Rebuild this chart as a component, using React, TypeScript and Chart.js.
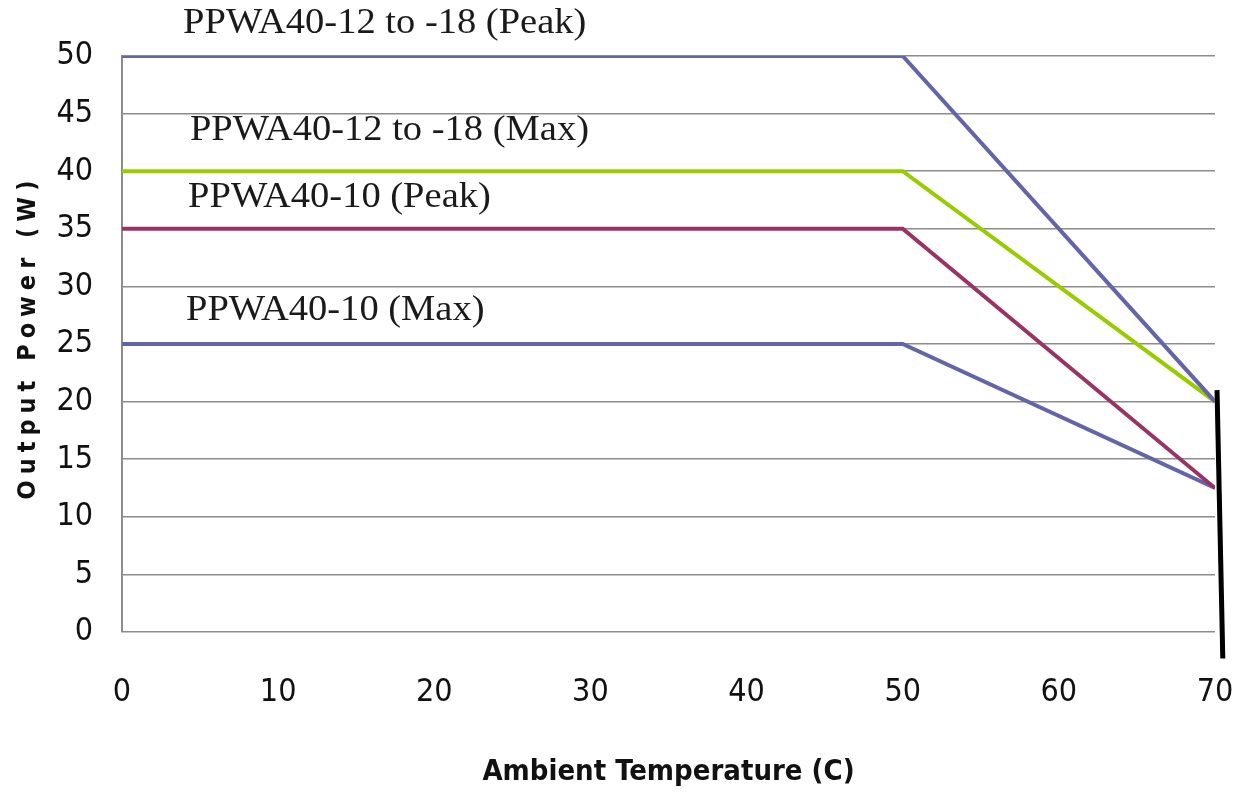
import React, { useEffect, useRef } from "react";
import { Chart, registerables } from "chart.js";

Chart.register(...registerables);

// ---- data ----
const temps = [0, 50, 70];
const peak12to18 = [50, 50, 20];
const max12to18 = [40, 40, 20];
const peak10 = [35, 35, 12.5];
const max10 = [25, 25, 12.5];
const markerX = [70.13, 70.5];
const markerY = [21, -2.3];
const seriesNames = [
  "PPWA40-12 to -18 (Peak)",
  "PPWA40-12 to -18 (Max)",
  "PPWA40-10 (Peak)",
  "PPWA40-10 (Max)",
];
// label anchors (left/baseline) in data units
const labelAtX = [3.91, 4.35, 4.23, 4.1];
const labelAtY = [52.0, 42.7, 36.9, 27.1];
const xTitle = "Ambient Temperature (C)";
const yTitle = "Output Power (W)";

const SANS = '"Liberation Sans Narrow", "DejaVu Sans Condensed", "Liberation Sans", sans-serif';
const SERIF = '"Liberation Serif", "DejaVu Serif", serif';

const BLUE = "#6464a8";
const GREEN = "#99cc00";
const MAROON = "#993366";
const GRID = "#8c8c8c";

const pts = (ys: number[]) => temps.map((t, i) => ({ x: t, y: ys[i] }));

const textPlugin = {
  id: "seriesText",
  afterDraw(chart: any) {
    const { ctx, scales, chartArea } = chart;
    const x = scales.x;
    const y = scales.y;
    ctx.save();
    ctx.fillStyle = "#1a1a1a";
    ctx.font = `36px ${SERIF}`;
    ctx.textAlign = "left";
    ctx.textBaseline = "alphabetic";
    seriesNames.forEach((t, i) => {
      const px = x.getPixelForValue(labelAtX[i]);
      const py = y.getPixelForValue(labelAtY[i]);
      ctx.save();
      ctx.translate(px, py);
      ctx.scale(1.07, 1);
      ctx.fillText(t, 0, 0);
      ctx.restore();
    });
    // y-axis title with letter spacing
    ctx.save();
    ctx.translate(35, (chartArea.top + chartArea.bottom) / 2 - 4);
    ctx.rotate(-Math.PI / 2);
    ctx.font = `bold 25px ${SANS}`;
    (ctx as any).letterSpacing = "6px";
    ctx.textAlign = "center";
    ctx.textBaseline = "alphabetic";
    ctx.fillStyle = "#111";
    ctx.fillText(yTitle, 3, 0);
    ctx.restore();
    ctx.restore();
  },
};

export default function App() {
  const ref = useRef<HTMLCanvasElement>(null);
  useEffect(() => {
    if (!ref.current) return;
    const chart = new Chart(ref.current, {
      type: "line",
      data: {
        datasets: [
          { label: seriesNames[0], data: pts(peak12to18), borderColor: BLUE, borderWidth: 4 },
          { label: seriesNames[1], data: pts(max12to18), borderColor: GREEN, borderWidth: 4 },
          { label: seriesNames[2], data: pts(peak10), borderColor: MAROON, borderWidth: 4 },
          { label: seriesNames[3], data: pts(max10), borderColor: BLUE, borderWidth: 4 },
          {
            label: "marker",
            data: markerX.map((v, i) => ({ x: v, y: markerY[i] })),
            borderColor: "#000",
            borderWidth: 5,
            clip: false as any,
          },
        ],
      },
      options: {
        animation: false,
        responsive: true,
        maintainAspectRatio: false,
        parsing: false as any,
        elements: {
          point: { radius: 0 },
          line: { tension: 0, fill: false, borderCapStyle: "butt" },
        },
        layout: { padding: { top: 56, right: 29, left: 0, bottom: 0 } },
        plugins: { legend: { display: false }, tooltip: { enabled: false } },
        scales: {
          x: {
            type: "linear",
            min: 0,
            max: 70,
            afterFit: (s: any) => {
              s.height = 162;
              s.paddingLeft = 0;
              s.paddingRight = 0;
            },
            grid: { display: false, drawTicks: false },
            border: { display: false },
            ticks: {
              stepSize: 10,
              padding: 41,
              color: "#111",
              font: { family: SANS, size: 32 },
            },
            title: {
              display: true,
              text: xTitle,
              color: "#111",
              font: { family: SANS, size: 29, weight: "bold" },
              padding: { top: 0, bottom: 4 },
            },
          },
          y: {
            type: "linear",
            min: 0,
            max: 50,
            afterFit: (s: any) => {
              s.width = 122;
              s.paddingTop = 0;
              s.paddingBottom = 0;
            },
            grid: { color: GRID, lineWidth: 1.5, drawTicks: false },
            border: { display: true, color: GRID, width: 2 },
            ticks: {
              stepSize: 5,
              padding: 29,
              color: "#111",
              font: { family: SANS, size: 32 },
            },
          },
        },
      },
      plugins: [textPlugin],
    });
    return () => chart.destroy();
  }, []);
  return (
    <div style={{ position: "fixed", left: 0, top: 0, width: 1244, height: 794, background: "#fff" }}>
      <canvas ref={ref} />
    </div>
  );
}
